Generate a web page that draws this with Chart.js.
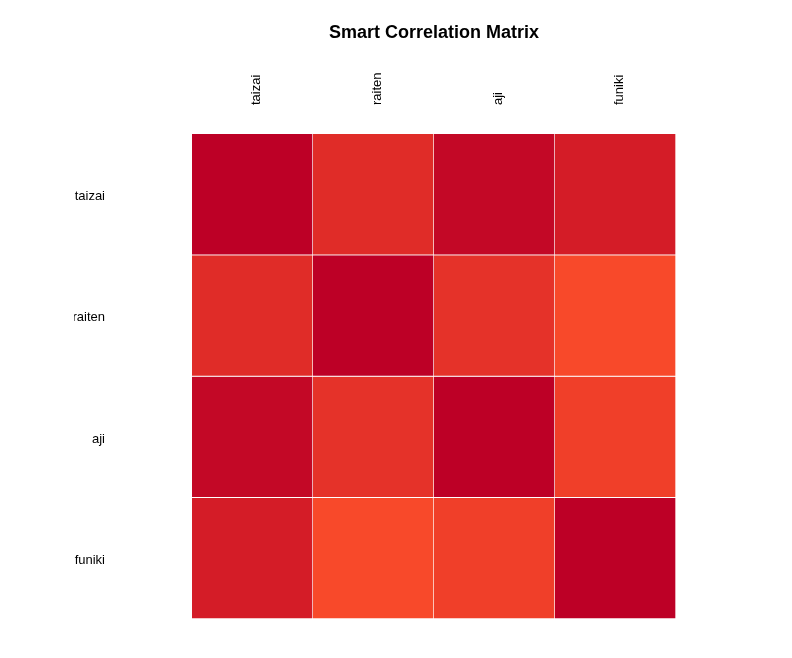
<!DOCTYPE html>
<html>
<head>
<meta charset="utf-8">
<script src="https://cdn.jsdelivr.net/npm/chart.js"></script>
<style>
  html, body { margin: 0; padding: 0; background: #fff; }
  #wrap { width: 792px; height: 658px; }
</style>
</head>
<body>
<div id="wrap"><canvas id="corrChart" width="792" height="658"></canvas></div>
<script>
// variable names
const columns = ['taizai', 'raiten', 'aji', 'funiki'];
const rows = ['taizai', 'raiten', 'aji', 'funiki'];

// correlation values, one array per row
const taizaiRow = [1.00, 0.44, 0.90, 0.64];
const raitenRow = [0.44, 1.00, 0.36, 0.06];
const ajiRow    = [0.90, 0.36, 1.00, 0.19];
const funikiRow = [0.64, 0.06, 0.19, 1.00];
const matrix = [taizaiRow, raitenRow, ajiRow, funikiRow];

// colour ramp: low -> high
const lowColor = [252, 78, 42];
const highColor = [189, 0, 38];

function cellColor(v) {
  const c = lowColor.map((lo, i) => Math.round(lo + (highColor[i] - lo) * v));
  return `rgb(${c[0]},${c[1]},${c[2]})`;
}

const datasets = rows.map((name, r) => ({
  label: name,
  data: matrix[r].map(() => [r, r + 1]),
  backgroundColor: matrix[r].map(cellColor),
  borderColor: '#ffffff',
  borderWidth: { top: 0, left: 0, right: 1, bottom: 1 },
  borderSkipped: false,
  barPercentage: 1,
  categoryPercentage: 1,
  grouped: false
}));

const font = 'Liberation Sans, Arial, sans-serif';

const ctx = document.getElementById('corrChart').getContext('2d');
const corrChart = new Chart(ctx, {
  type: 'bar',
  data: { labels: columns, datasets: datasets },
  options: {
    responsive: false,
    maintainAspectRatio: false,
    animation: false,
    layout: { padding: { left: 74, right: 116, top: 0, bottom: 39 } },
    plugins: {
      legend: { display: false },
      tooltip: { enabled: false }
    },
    scales: {
      x: {
        position: 'top',
        grid: { display: false, drawTicks: false },
        border: { display: false },
        afterFit: (scale) => {
          scale.height = 134;
          scale.paddingTop = 0;
          scale.paddingBottom = 0;
        },
        title: {
          display: true,
          text: 'Smart Correlation Matrix',
          color: '#000',
          font: { family: font, size: 18, weight: 'bold' },
          padding: { top: 22, bottom: 0 }
        },
        ticks: {
          color: '#000',
          minRotation: 90,
          maxRotation: 90,
          padding: 29,
          labelOffset: 20,
          font: { family: font, size: 13 }
        }
      },
      y: {
        min: 0,
        max: 4,
        reverse: true,
        grid: { display: false, drawTicks: false },
        border: { display: false },
        afterFit: (scale) => {
          scale.width = 118;
          scale.paddingTop = 0;
          scale.paddingBottom = 0;
        },
        afterBuildTicks: (scale) => {
          scale.ticks = rows.map((_, i) => ({ value: i + 0.5 }));
        },
        ticks: {
          color: '#000',
          padding: 87,
          labelOffset: 2,
          autoSkip: false,
          font: { family: font, size: 13 },
          callback: (value, index) => rows[index]
        }
      }
    }
  }
});
</script>
</body>
</html>
